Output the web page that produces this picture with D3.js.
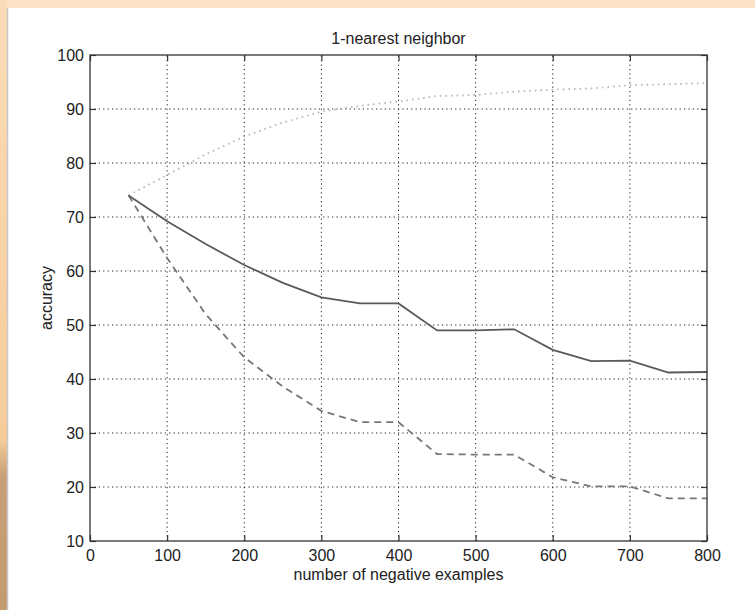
<!DOCTYPE html>
<html>
<head>
<meta charset="utf-8">
<script src="https://cdn.jsdelivr.net/npm/d3@7/dist/d3.min.js"></script>
<style>
  html, body { margin: 0; padding: 0; background: #fff; }
  svg { display: block; }
  text { font-family: "Liberation Sans", Arial, Helvetica, sans-serif; fill: #222; }
</style>
</head>
<body>
<script>
// ---- data ----
const title = "1-nearest neighbor";
const xLabel = "number of negative examples";
const yLabel = "accuracy";
const xTicks = [0, 100, 200, 300, 400, 500, 600, 700, 800];
const yTicks = [10, 20, 30, 40, 50, 60, 70, 80, 90, 100];
const negExamples = [50, 100, 150, 200, 250, 300, 350, 400, 450, 500, 550, 600, 650, 700, 750, 800];
const solidSeries  = [74, 69.2, 65, 61.1, 57.8, 55.1, 54, 54, 49, 49, 49.2, 45.4, 43.3, 43.4, 41.2, 41.3];
const dashedSeries = [74, 62.4, 52, 44, 38.6, 34.1, 32, 32, 26.1, 26, 26, 21.8, 20.1, 20.1, 17.9, 17.9];
const dottedSeries = [74, 77.8, 81.6, 84.9, 87.5, 89.5, 90.6, 91.4, 92.4, 92.6, 93.2, 93.6, 93.8, 94.4, 94.6, 94.8];

const W = 755, H = 610;
const m = { left: 90, right: 48, top: 55, bottom: 69 };

const svg = d3.select("body").append("svg").attr("width", W).attr("height", H);

// page background (peach frame)
const defs = svg.append("defs");
const lg = defs.append("linearGradient").attr("id", "leftBand").attr("x1", 0).attr("y1", 0).attr("x2", 0).attr("y2", 1);
lg.append("stop").attr("offset", "0%").attr("stop-color", "#fbdcb8");
lg.append("stop").attr("offset", "72%").attr("stop-color", "#f6cc9a");
lg.append("stop").attr("offset", "78%").attr("stop-color", "#c8a078");
lg.append("stop").attr("offset", "100%").attr("stop-color", "#c39b70");
svg.append("rect").attr("x", 0).attr("y", 0).attr("width", W).attr("height", H).attr("fill", "#fce2c6");
svg.append("rect").attr("x", 0).attr("y", 0).attr("width", 7).attr("height", H).attr("fill", "url(#leftBand)");
svg.append("rect").attr("x", 7).attr("y", 8).attr("width", W - 7).attr("height", H - 8).attr("fill", "#ffffff");
svg.append("line").attr("x1", 7.5).attr("x2", 7.5).attr("y1", 8).attr("y2", H).attr("stroke", "#c8c8c8").attr("stroke-width", 1.5);

const x = d3.scaleLinear().domain([0, 800]).range([m.left, W - m.right]);
const y = d3.scaleLinear().domain([10, 100]).range([H - m.bottom, m.top]);

const g = svg.append("g");

// grid
g.append("g").selectAll("line").data(xTicks.slice(1, -1)).join("line")
  .attr("x1", d => x(d)).attr("x2", d => x(d)).attr("y1", y(10)).attr("y2", y(100))
  .attr("stroke", "#222").attr("stroke-width", 1).attr("stroke-dasharray", "1.2,3.2");
g.append("g").selectAll("line").data(yTicks.slice(1, -1)).join("line")
  .attr("x1", x(0)).attr("x2", x(800)).attr("y1", d => y(d)).attr("y2", d => y(d))
  .attr("stroke", "#222").attr("stroke-width", 1).attr("stroke-dasharray", "1.2,3.2");

// series
const line = d3.line().x((d, i) => x(negExamples[i])).y(d => y(d));
g.append("path").datum(dottedSeries).attr("d", line).attr("fill", "none")
  .attr("stroke", "#b8b8b8").attr("stroke-width", 1.8).attr("stroke-dasharray", "1.6,4");
g.append("path").datum(dashedSeries).attr("d", line).attr("fill", "none")
  .attr("stroke", "#777").attr("stroke-width", 1.8).attr("stroke-dasharray", "7,5");
g.append("path").datum(solidSeries).attr("d", line).attr("fill", "none")
  .attr("stroke", "#5a5a5a").attr("stroke-width", 1.8);

// axes with inward ticks
const tl = 6;
const fmt = d3.format("d");
const axB = g.append("g").attr("transform", `translate(0,${y(10)})`)
  .call(d3.axisBottom(x).tickValues(xTicks).tickSizeInner(-tl).tickSizeOuter(0).tickPadding(9).tickFormat(fmt));
const axT = g.append("g").attr("transform", `translate(0,${y(100)})`)
  .call(d3.axisTop(x).tickValues(xTicks).tickSizeInner(-tl).tickSizeOuter(0).tickFormat(""));
const axL = g.append("g").attr("transform", `translate(${x(0)},0)`)
  .call(d3.axisLeft(y).tickValues(yTicks).tickSizeInner(-tl).tickSizeOuter(0).tickPadding(6).tickFormat(fmt));
const axR = g.append("g").attr("transform", `translate(${x(800)},0)`)
  .call(d3.axisRight(y).tickValues(yTicks).tickSizeInner(-tl).tickSizeOuter(0).tickFormat(""));
[axB, axT, axL, axR].forEach(a => {
  a.select(".domain").remove();
  a.selectAll(".tick line").attr("stroke", "#333").attr("stroke-width", 1.2);
  a.selectAll(".tick text").attr("font-size", 16).attr("fill", "#222")
    .style("font-family", "'Liberation Sans', Arial, sans-serif");
});
axL.selectAll(".tick text").attr("dy", "0.36em");

// box
g.append("rect").attr("x", x(0)).attr("y", y(100)).attr("width", x(800) - x(0)).attr("height", y(10) - y(100))
  .attr("fill", "none").attr("stroke", "#333").attr("stroke-width", 1.3);

// labels
svg.append("text").attr("x", (x(0) + x(800)) / 2).attr("y", 44).attr("text-anchor", "middle")
  .attr("font-size", 16).text(title);
svg.append("text").attr("x", (x(0) + x(800)) / 2).attr("y", 580).attr("text-anchor", "middle")
  .attr("font-size", 16).text(xLabel);
svg.append("text").attr("transform", `translate(52,${(y(10) + y(100)) / 2}) rotate(-90)`).attr("text-anchor", "middle")
  .attr("font-size", 16).text(yLabel);
</script>
</body>
</html>
